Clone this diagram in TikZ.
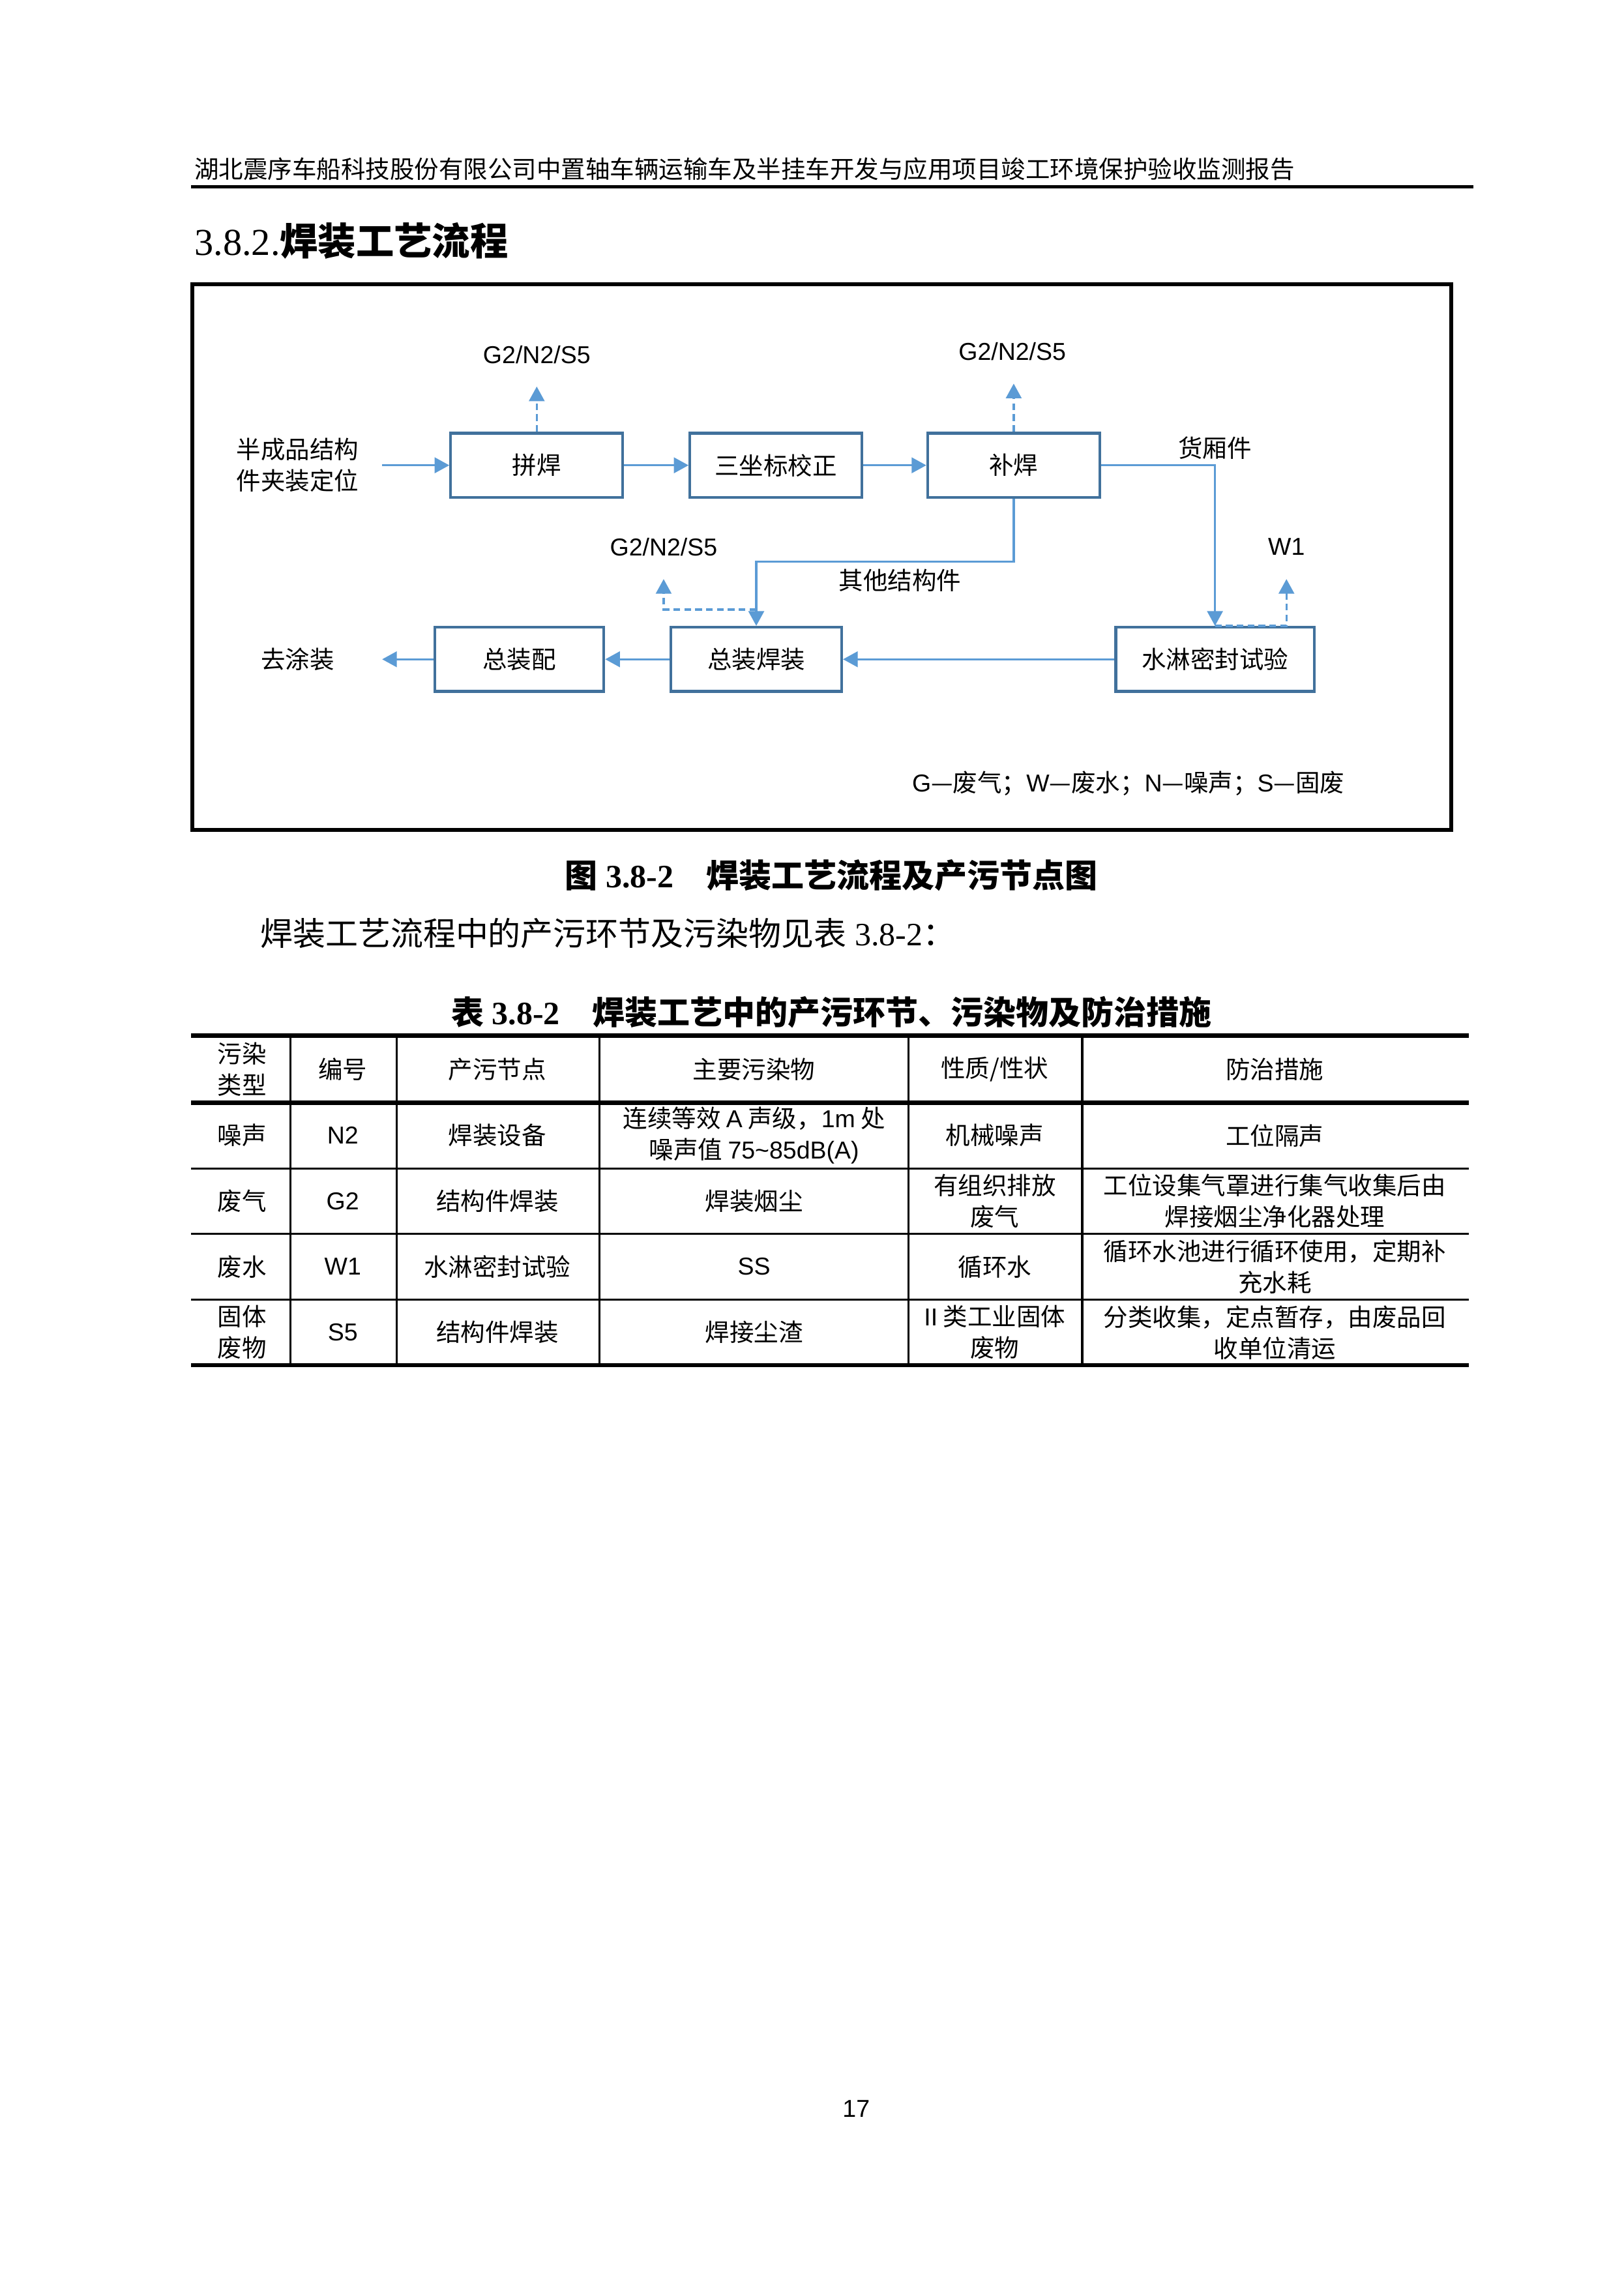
\documentclass[tikz,border=0pt]{standalone}
\usepackage{fontspec}
\setmainfont{Liberation Serif}
\newfontfamily\cjk{Noto Sans CJK SC}
\newfontfamily\arial{Liberation Sans}
\usetikzlibrary{arrows.meta}

\definecolor{kuanglan}{RGB}{65,113,156}
\definecolor{xianlan}{RGB}{91,155,213}

\tikzset{
  box/.style={draw=kuanglan, line width=1pt, minimum width=2.227cm, minimum height=0.83cm,
    inner sep=0pt, font=\cjk\fontsize{9}{11}\selectfont},
  txt/.style={inner sep=0pt, align=center, font=\cjk\fontsize{9}{11.5}\selectfont},
  liu/.style={draw=xianlan, line width=0.8pt, ->},
  pai/.style={liu, dash pattern=on 2.5pt off 1.5pt},
  ge/.style={inner sep=0pt, align=center, font=\cjk\fontsize{9}{11.5}\selectfont},
}

\begin{document}
\begin{tikzpicture}[x=0.018874cm, y=-0.018874cm, >={Triangle[length=1.9mm, width=2mm]}]

    % 0. Trang giấy
    \fill[white] (0,0) rectangle (1113,1568);
    \useasboundingbox (0,0) rectangle (1113,1568);

    % 1. 页眉
    \node[anchor=west, inner sep=0pt, font=\cjk\fontsize{9}{11}\selectfont] (yemei) at (133,116)
      {湖北震序车船科技股份有限公司中置轴车辆运输车及半挂车开发与应用项目竣工环境保护验收监测报告};
    \draw[line width=1.2pt] (131,128) -- (1010,128);

    % 2. 标题
    \node[anchor=west, inner sep=0pt, font=\fontsize{14}{16}\selectfont] (biaoti) at (133,165)
      {3.8.2.{\cjk\bfseries 焊装工艺流程}};

    % 3. 流程图外框
    \draw[line width=1.5pt] (132,195) rectangle (995,569);

    % 4. 工序方框
    \node[box] (pinhan) at (368,319) {拼焊};
    \node[box] (jiaozheng) at (532,319) {三坐标校正};
    \node[box] (buhan) at (695,319) {补焊};
    \node[box, minimum width=2.567cm] (shuilin) at (833,452) {水淋密封试验};
    \node[box, minimum width=2.21cm] (zonghan) at (518.5,452) {总装焊装};
    \node[box, minimum width=2.19cm] (zongpei) at (356,452) {总装配};

    % 5. 文字
    \node[txt] (jinliao) at (204,319) {半成品结构\\件夹装定位};
    \node[txt] (qutu) at (204,452) {去涂装};
    \node[txt] (huoxiang) at (833,307) {货厢件};
    \node[txt] (qita) at (617,398) {其他结构件};
    \node[txt, font=\arial\fontsize{9}{11}\selectfont] (g1) at (368,243) {G2/N2/S5};
    \node[txt, font=\arial\fontsize{9}{11}\selectfont] (g2) at (694,241) {G2/N2/S5};
    \node[txt, font=\arial\fontsize{9}{11}\selectfont] (g3) at (455,375) {G2/N2/S5};
    \node[txt, font=\arial\fontsize{9}{11}\selectfont] (w1) at (882,375) {W1};
    \node[txt, anchor=west] (tuli) at (625,537)
      {{\arial G}—废气；{\arial W}—废水；{\arial N}—噪声；{\arial S}—固废};

    % 6. 箭头端点
    \coordinate (ru) at (262,319);
    \coordinate (chu) at (262,452);
    \coordinate (g1tip) at (368,265);
    \coordinate (g2tip) at (695,263);
    \coordinate (g3tip) at (455,397);
    \coordinate (w1tip) at (882,397);
    \coordinate (zhe) at (606,385);

    % 7. 连线
    \draw[liu] (ru) -- (pinhan.west);
    \draw[liu] (pinhan.east) -- (jiaozheng.west);
    \draw[liu] (jiaozheng.east) -- (buhan.west);
    \draw[liu] (buhan.east) -| (shuilin.north);
    \draw[liu] (buhan.south) |- (zhe) -| (zonghan.north);
    \draw[liu] (shuilin.west) -- (zonghan.east);
    \draw[liu] (zonghan.west) -- (zongpei.east);
    \draw[liu] (zongpei.west) -- (chu);

    % 8. 产污 (虚线)
    \draw[pai] (pinhan.north) -- (g1tip);
    \draw[pai] (buhan.north) -- (g2tip);
    \draw[pai] ([yshift=0.21cm]zonghan.north) -| (g3tip);
    \draw[pai] (shuilin.north) -| (w1tip);

    % 9. 图名与正文
    \node[inner sep=0pt, font=\bfseries\fontsize{12}{14}\selectfont] (tuming) at (570,600)
      {{\cjk 图} 3.8-2\quad{\cjk 焊装工艺流程及产污节点图}};
    \node[anchor=west, inner sep=0pt, font=\fontsize{12}{14}\selectfont] (zhengwen) at (178,640)
      {{\cjk 焊装工艺流程中的产污环节及污染物见表} 3.8-2{\cjk ：}};
    \node[inner sep=0pt, font=\bfseries\fontsize{12}{14}\selectfont] (biaoming) at (570,694)
      {{\cjk 表} 3.8-2\quad{\cjk 焊装工艺中的产污环节、污染物及防治措施}};

    % 10. 表格线
    \foreach \y in {710,756,936}
      \draw[line width=1.5pt] (131,\y) -- (1007,\y);
    \foreach \y in {801,846,891}
      \draw[line width=0.75pt] (131,\y) -- (1007,\y);
    \foreach \x in {199,272,411,623,742}
      \draw[line width=0.75pt] (\x,710) -- (\x,936);

    % 11. 表格内容
    \node[ge] (b11) at (166,733) {污染\\类型};
    \node[ge] (b12) at (235,733) {编号};
    \node[ge] (b13) at (341,733) {产污节点};
    \node[ge] (b14) at (517,733) {主要污染物};
    \node[ge] (b15) at (682,733) {性质/性状};
    \node[ge] (b16) at (874,733) {防治措施};

    \node[ge] (b21) at (166,778.5) {噪声};
    \node[ge, font=\arial\fontsize{9}{11}\selectfont] (b22) at (235,778.5) {N2};
    \node[ge] (b23) at (341,778.5) {焊装设备};
    \node[ge] (b24) at (517,778.5)
      {连续等效 {\arial A} 声级，{\arial 1m} 处\\噪声值 {\arial 75\textasciitilde85dB(A)}};
    \node[ge] (b25) at (682,778.5) {机械噪声};
    \node[ge] (b26) at (874,778.5) {工位隔声};

    \node[ge] (b31) at (166,823.5) {废气};
    \node[ge, font=\arial\fontsize{9}{11}\selectfont] (b32) at (235,823.5) {G2};
    \node[ge] (b33) at (341,823.5) {结构件焊装};
    \node[ge] (b34) at (517,823.5) {焊装烟尘};
    \node[ge] (b35) at (682,823.5) {有组织排放\\废气};
    \node[ge] (b36) at (874,823.5) {工位设集气罩进行集气收集后由\\焊接烟尘净化器处理};

    \node[ge] (b41) at (166,868.5) {废水};
    \node[ge, font=\arial\fontsize{9}{11}\selectfont] (b42) at (235,868.5) {W1};
    \node[ge] (b43) at (341,868.5) {水淋密封试验};
    \node[ge, font=\arial\fontsize{9}{11}\selectfont] (b44) at (517,868.5) {SS};
    \node[ge] (b45) at (682,868.5) {循环水};
    \node[ge] (b46) at (874,868.5) {循环水池进行循环使用，定期补\\充水耗};

    \node[ge] (b51) at (166,913.5) {固体\\废物};
    \node[ge, font=\arial\fontsize{9}{11}\selectfont] (b52) at (235,913.5) {S5};
    \node[ge] (b53) at (341,913.5) {结构件焊装};
    \node[ge] (b54) at (517,913.5) {焊接尘渣};
    \node[ge] (b55) at (682,913.5) {{\arial II} 类工业固体\\废物};
    \node[ge] (b56) at (874,913.5) {分类收集，定点暂存，由废品回\\收单位清运};

    % 12. 页码
    \node[inner sep=0pt, font=\arial\fontsize{9}{11}\selectfont] (yema) at (587,1446) {17};

\end{tikzpicture}
\end{document}
